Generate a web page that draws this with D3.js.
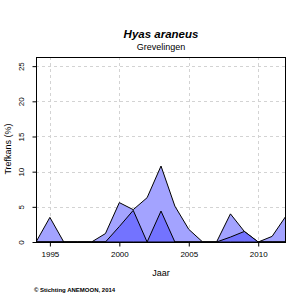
<!DOCTYPE html>
<html><head><meta charset="utf-8">
<script src="https://cdn.jsdelivr.net/npm/d3@7/dist/d3.min.js"></script>
<style>body{margin:0;background:#fff}svg{display:block;font-family:"Liberation Sans",Arial,sans-serif}</style>
</head><body><svg id="c" width="300" height="300"></svg>
<script>
const years = [1994,1995,1996,1997,1998,1999,2000,2001,2002,2003,2004,2005,2006,2007,2008,2009,2010,2011,2012];
const totalVals = [0,3.5,0,0,0,1.2,5.6,4.6,6.3,10.8,5.1,1.8,0,0,4.0,1.5,0,0.8,3.7];
const darkVals  = [0,0,0,0,0,0,2.2,4.5,0,4.4,0,0,0,0,0.7,1.5,0,0,0];
const xTicks = [1995,2000,2005,2010];
const yTicks = [0,5,10,15,20,25];
const title = "Hyas araneus", subtitle = "Grevelingen", xLabel = "Jaar", yLabel = "Trefkans (%)", credit = "© Stichting ANEMOON, 2014";

const svg = d3.select("#c");
const L=36,R=286,T=57,B=242;
const x = d3.scaleLinear().domain([1994,2012]).range([L,R]);
const y = d3.scaleLinear().domain([0,26.3]).range([B,T]);

svg.append("clipPath").attr("id","clip").append("rect").attr("x",L).attr("y",T).attr("width",R-L).attr("height",B-T);

// grid
const g = svg.append("g");
g.selectAll(".gx").data(xTicks).join("line").attr("x1",d=>Math.round(x(d))+0.5).attr("x2",d=>Math.round(x(d))+0.5)
 .attr("y1",T).attr("y2",B).attr("stroke","#d3d3d3").attr("stroke-dasharray","3,3");
g.selectAll(".gy").data(yTicks.slice(1)).join("line").attr("y1",d=>Math.round(y(d))+0.5).attr("y2",d=>Math.round(y(d))+0.5)
 .attr("x1",L).attr("x2",R).attr("stroke","#d3d3d3").attr("stroke-dasharray","3,3");

const area = vals => d3.area().x((d,i)=>x(years[i])).y0(y(0)).y1(d=>y(d))(vals);
const pg = svg.append("g").attr("clip-path","url(#clip)");
pg.append("path").attr("d",area(totalVals)).attr("fill","#a3a3ff").attr("stroke","#000").attr("stroke-width",1);
pg.append("path").attr("d",area(darkVals)).attr("fill","#7373ff").attr("stroke","#000").attr("stroke-width",1);

// box
svg.append("rect").attr("x",L+0.5).attr("y",T+0.5).attr("width",R-L-1).attr("height",B-T).attr("fill","none").attr("stroke","#000").attr("stroke-width",1);

// axes
const xa = svg.append("g").attr("transform",`translate(0,${B+0.5})`).call(d3.axisBottom(x).tickValues(xTicks).tickFormat(d3.format("d")).tickSize(4).tickSizeOuter(0));
xa.select(".domain").remove();
xa.selectAll("text").attr("font-size",8).attr("font-family","Liberation Sans, Arial").attr("dy","0.95em").attr("fill","#000");
const ya = svg.append("g").attr("transform",`translate(${L+0.5},0)`).call(d3.axisLeft(y).tickValues(yTicks).tickSize(4).tickSizeOuter(0));
ya.select(".domain").remove();
ya.selectAll(".tick text").attr("font-size",8).attr("font-family","Liberation Sans, Arial").attr("fill","#000")
  .attr("x",-13).attr("y",0).attr("dy",null).attr("text-anchor","middle").attr("transform","rotate(-90,-13,0)");

// titles
svg.append("text").attr("x",161).attr("y",38).attr("text-anchor","middle").attr("font-size",11.5).attr("font-weight","bold").attr("font-style","italic").text(title);
svg.append("text").attr("x",161).attr("y",50).attr("text-anchor","middle").attr("font-size",9).text(subtitle);
svg.append("text").attr("x",161).attr("y",276).attr("text-anchor","middle").attr("font-size",9).text(xLabel);
svg.append("text").attr("transform","translate(11,149) rotate(-90)").attr("text-anchor","middle").attr("font-size",9).text(yLabel);
svg.append("text").attr("x",34).attr("y",292).attr("font-size",6).attr("font-weight","bold").text(credit);
</script></body></html>
